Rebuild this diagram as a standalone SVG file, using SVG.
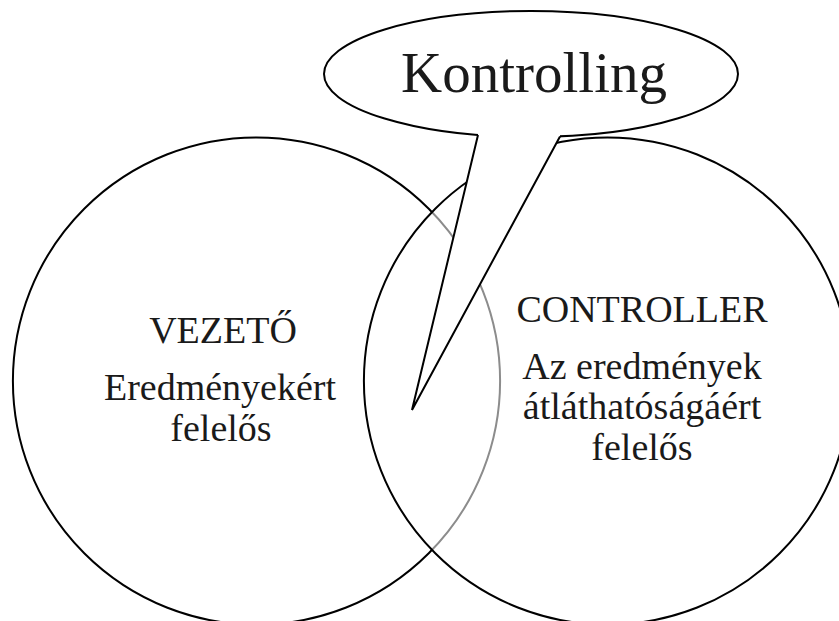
<svg xmlns="http://www.w3.org/2000/svg" width="839" height="621" viewBox="0 0 839 621">
<style>
.shape{stroke:#000;stroke-width:2;}
.t{font-family:"Liberation Serif","Times New Roman",serif;fill:#1a1a1a;text-anchor:middle;}
.m{font-size:38px;}
</style>
<rect width="839" height="621" fill="#fff"/>
<g id="vezeto">
<circle class="shape" cx="256.5" cy="381" r="243.6" fill="none"/>
<text class="t m" x="223" y="343">VEZETŐ</text>
<text class="t m" x="220" y="400">Eredményekért</text>
<text class="t m" x="221" y="441">felelős</text>
</g>
<g id="controller">
<circle class="shape" cx="607.5" cy="381" r="243.6" fill="#fff" fill-opacity="0.55"/>
<text class="t m" x="642" y="322">CONTROLLER</text>
<text class="t m" x="642" y="379">Az eredmények</text>
<text class="t m" x="642" y="419">átláthatóságáért</text>
<text class="t m" x="642" y="460">felelős</text>
</g>
<g id="kontrolling">
<ellipse class="shape" cx="531" cy="74" rx="207" ry="63" fill="#fff"/>
<polygon points="478,131 478,135 412,410 560,136.4 560,132" fill="#fff" stroke="none"/>
<polyline class="shape" points="478,134.9 412,410 560,136.4" fill="none" stroke-linejoin="miter"/>
<text class="t" x="534" y="92" font-size="57">Kontrolling</text>
</g>
</svg>
